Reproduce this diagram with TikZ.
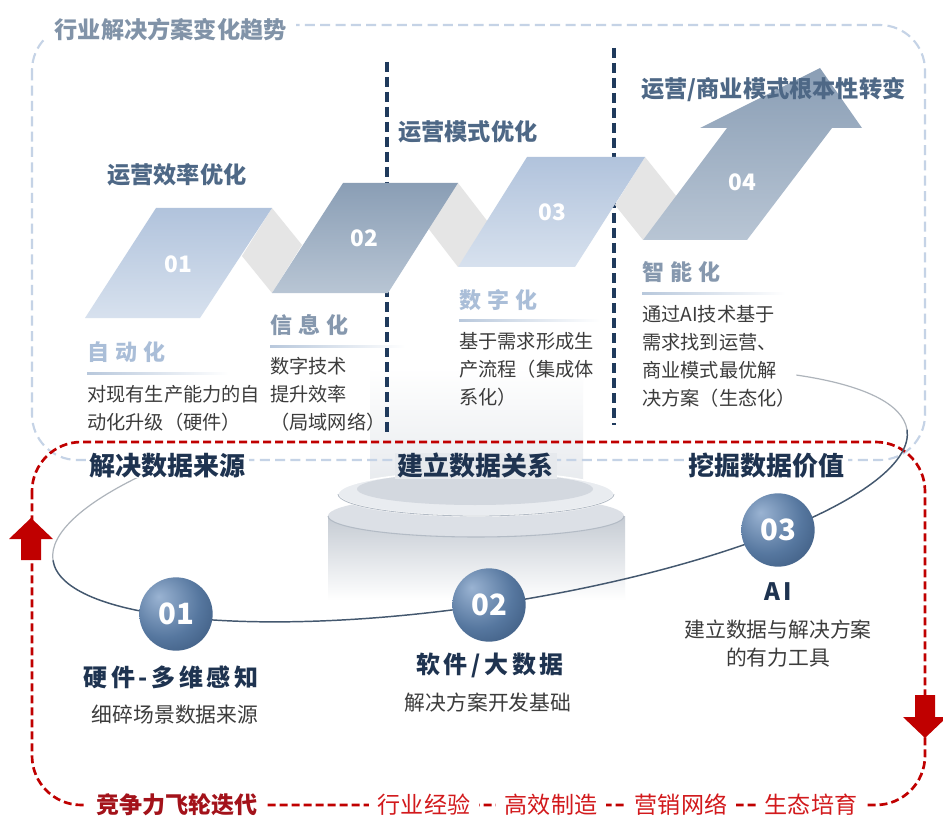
\documentclass[tikz,border=0pt]{standalone}
\usepackage{fontspec}
\setmainfont{Noto Sans CJK SC}
\newfontfamily\spacedfont[LetterSpace=27]{Noto Sans CJK SC}
\newfontfamily\widefont[LetterSpace=15]{Noto Sans CJK SC}

\definecolor{boxblue}{HTML}{C5D3E6}
\definecolor{boxtitle}{HTML}{8193A8}
\definecolor{stagetitle}{HTML}{4E6886}
\definecolor{navytext}{HTML}{1E3350}
\definecolor{bodygray}{HTML}{3C3C3C}
\definecolor{stagelight}{HTML}{AABED8}
\definecolor{stagedark}{HTML}{8698AE}
\definecolor{rule}{HTML}{B8C8DC}
\definecolor{ribbon}{HTML}{E5E5E5}
\definecolor{lightTop}{HTML}{B1C3DC}
\definecolor{lightBot}{HTML}{D7E1EE}
\definecolor{slateTop}{HTML}{8A9EB5}
\definecolor{slateBot}{HTML}{B8C5D4}
\definecolor{divider}{HTML}{1F3A5C}
\definecolor{loopred}{HTML}{C00000}
\definecolor{loopdark}{HTML}{A3121A}
\definecolor{looptext}{HTML}{D2191C}
\definecolor{orbitfront}{HTML}{44586F}
\definecolor{orbitback}{HTML}{AEB4BB}
\definecolor{colgray}{HTML}{E6E9ED}
\definecolor{cylgray}{HTML}{C5CBD3}
\definecolor{cyltop}{HTML}{DCE0E6}
\definecolor{cylrim}{HTML}{B3BBC5}
\definecolor{discgray}{HTML}{E9ECF0}
\definecolor{innergray}{HTML}{D3D8DF}
\definecolor{sphlight}{HTML}{9AB3D2}
\definecolor{sphmid}{HTML}{56779F}
\definecolor{sphdark}{HTML}{2B4669}

% blue ball for the three data stages
\pgfdeclareradialshading{sphereshade}{\pgfpoint{-12bp}{12bp}}{%
  color(0bp)=(sphlight); color(24bp)=(sphmid); color(50bp)=(sphdark); color(70bp)=(sphdark)}

\begin{document}
\begin{tikzpicture}[
  x=0.75pt, y=-0.75pt,
  panel/.style={draw=boxblue, line width=1.6pt, dash pattern=on 7.5pt off 4pt, rounded corners=34pt},
  loop/.style={draw=loopred, line width=2pt, dash pattern=on 6pt off 3pt, rounded corners=37pt},
  phase/.style={draw=divider, line width=2.6pt, dash pattern=on 7.5pt off 3.75pt},
  trend/.style={font=\bfseries\fontsize{17.4}{20}\selectfont, text=stagetitle, inner sep=0pt, anchor=west},
  stage/.style={font=\spacedfont\bfseries\fontsize{16.5}{20}\selectfont, inner sep=0pt, anchor=west},
  body/.style={font=\fontsize{14.4}{21}\selectfont, text=bodygray, align=left, inner sep=0pt, anchor=north west},
  num/.style={text=white, font=\bfseries\fontsize{17}{17}\selectfont},
  layer/.style={font=\bfseries\fontsize{19.5}{22}\selectfont, text=navytext, inner xsep=2pt, inner ysep=0pt, anchor=west, fill=white},
  sphere/.style={circle, shade, shading=sphereshade, minimum size=55pt, inner sep=0pt, text=white, font=\bfseries\fontsize{22}{22}\selectfont},
  capt/.style={font=\widefont\bfseries\fontsize{18}{20}\selectfont, text=navytext, inner sep=0pt},
  note/.style={font=\fontsize{15.6}{21}\selectfont, text=bodygray, align=center, inner sep=0pt},
  flyer/.style={font=\fontsize{17.3}{20}\selectfont, text=looptext, fill=white, inner xsep=7pt, inner ysep=1pt},
]
\useasboundingbox (0,0) rectangle (943,820);
\fill[white] (0,0) rectangle (943,820);

% platform: faint column, disc and cylinder
\shade[top color=white, bottom color=colgray] (370,368) rectangle (583,490);
\shade[top color=cylgray, bottom color=white] (328,516) rectangle (625,600);
\fill[cyltop] (476,516) ellipse [x radius=148, y radius=21];
\draw[cylrim, line width=0.8pt] (624,516) arc[start angle=0, end angle=180, x radius=148, y radius=21];
\fill[discgray] (476,494) ellipse [x radius=138, y radius=22];
\draw[white, line width=1.2pt] (476,494) ellipse [x radius=138, y radius=22];
\draw[cylrim, line width=0.6pt] (614,494) arc[start angle=0, end angle=180, x radius=138, y radius=22];
\fill[innergray] (475,489) ellipse [x radius=118, y radius=16];

% back half of the orbit
\begin{scope}[shift={(480,495)}, rotate=8.7]
  \draw[orbitback, line width=0.9pt] (-432,0) arc[start angle=180, end angle=222, x radius=432, y radius=110];
  \draw[orbitback, line width=0.9pt] (330.9,-70.7) arc[start angle=320, end angle=360, x radius=432, y radius=110];
\end{scope}

% frames
\draw[panel] (32,25) rectangle (925,460);
\draw[loop] (32,442) rectangle (925,805);

% phase dividers
\draw[phase] (387,62) -- (387,432);
\draw[phase] (614,48) -- (614,425);

% folded ribbon behind the steps
\fill[ribbon] (272,208) -- (302,245) -- (272,293) -- (242,256) -- cycle;
\fill[ribbon] (458,183) -- (488,222) -- (458,267) -- (428,228) -- cycle;
\fill[ribbon] (645,157) -- (677,197) -- (643,240) -- (615,205) -- cycle;

% steps 01 -- 04
\shade[top color=lightTop, bottom color=lightBot] (85,318) -- (200,318) -- (272,208) -- (156,208) -- cycle;
\shade[top color=slateTop, bottom color=slateBot] (272,293) -- (388,293) -- (458,183) -- (343,183) -- cycle;
\shade[top color=lightTop, bottom color=lightBot] (458,267) -- (575,267) -- (645,157) -- (527,157) -- cycle;
\shade[top color=slateTop, bottom color=slateBot] (643,240) -- (747,240) -- (832,128) -- (862,128)
  -- (820,68) -- (700,128) -- (727,128) -- cycle;
\node[num] (p1) at (178,264) {01};
\node[num] (p2) at (364,238) {02};
\node[num] (p3) at (552,212) {03};
\node[num] (p4) at (742,182) {04};

% titles of the phases
\node[font=\bfseries\fontsize{17.4}{20}\selectfont, text=boxtitle, fill=white, anchor=west,
  inner xsep=7pt, inner ysep=4pt] (trend) at (45,30) {行业解决方案变化趋势};
\node[trend] (t1) at (107,175) {运营效率优化};
\node[trend] (t2) at (398,132) {运营模式优化};
\node[trend] (t3) at (641,90) {运营/商业模式根本性转变};

% stage names with fading rules
\node[stage, text=stagelight] (g1) at (87,352) {自动化};
\node[stage, text=stagedark] (g2) at (270,325) {信息化};
\node[stage, text=stagelight] (g3) at (459,300) {数字化};
\node[stage, text=stagedark] (g4) at (642,272) {智能化};
\shade[left color=rule, right color=white] (87,372) rectangle (228,374);
\shade[left color=rule, right color=white] (270,345) rectangle (405,347);
\shade[left color=rule, right color=white] (459,319) rectangle (600,321);
\shade[left color=rule, right color=white] (642,292) rectangle (785,294);

\node[body] (b1) at (87,385) {对现有生产能力的自\\动化升级（硬件）};
\node[body] (b2) at (270,357) {数字技术\\提升效率\\（局域网络）};
\node[body] (b3) at (459,332) {基于需求形成生\\产流程（集成体\\系化）};
\node[body] (b4) at (642,305) {通过AI技术基于\\需求找到运营、\\商业模式最优解\\决方案（生态化）};

% data layers
\node[layer] (l1) at (87,466) {解决数据来源};
\node[layer, fill=colgray] (l2) at (395,466) {建立数据关系};
\node[layer] (l3) at (686,466) {挖掘数据价值};

% front half of the orbit
\begin{scope}[shift={(480,495)}, rotate=8.7]
  \draw[orbitfront, line width=1.1pt] (432,0) arc[start angle=0, end angle=180, x radius=432, y radius=110];
\end{scope}

\node[sphere] (s1) at (176,614) {01};
\node[sphere] (s2) at (489,605) {02};
\node[sphere] (s3) at (778,530) {03};
\node[capt] (c1) at (171,677) {硬件-多维感知};
\node[note] (n1) at (175,715) {细碎场景数据来源};
\node[capt] (c2) at (490,665) {软件/大数据};
\node[note] (n2) at (488,703) {解决方案开发基础};
\node[capt] (c3) at (778,592) {AI};
\node[note] (n3) at (778,644) {建立数据与解决方案\\的有力工具};

% flywheel arrows
\fill[loopred] (31,518) -- ++(22,21) -- ++(-12,0) -- ++(0,21) -- ++(-20,0) -- ++(0,-21) -- ++(-12,0) -- cycle;
\fill[loopred] (925,738) -- ++(22,-21) -- ++(-12,0) -- ++(0,-22) -- ++(-20,0) -- ++(0,22) -- ++(-12,0) -- cycle;

\node[flyer, font=\bfseries\fontsize{17.3}{20}\selectfont, text=loopdark] (f0) at (177,805) {竞争力飞轮迭代};
\foreach \x/\t [count=\i] in {424/行业经验, 551/高效制造, 681/营销网络, 811/生态培育}
  \node[flyer] (f\i) at (\x,805) {\t};
\end{tikzpicture}
\end{document}
